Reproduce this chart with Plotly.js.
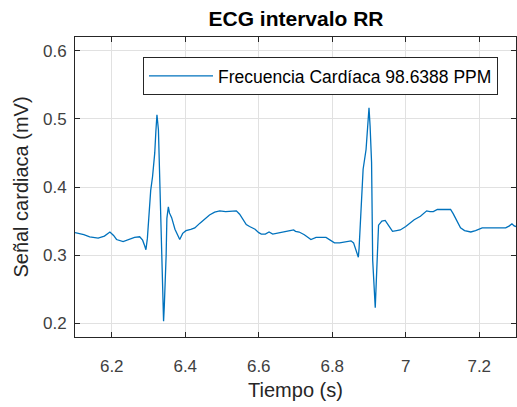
<!DOCTYPE html>
<html>
<head>
<meta charset="utf-8">
<script src="https://cdn.plot.ly/plotly-3.0.1.min.js"></script>
<style>
  html, body { margin: 0; padding: 0; background: #fff; }
  #chart { width: 517px; height: 407px; }
</style>
</head>
<body>
<div id="chart"></div>
<script>
// ECG segment: time (s) and cardiac signal (mV)
const tiempo = [
  6.100, 6.110, 6.124, 6.140, 6.163, 6.180, 6.195, 6.205, 6.213, 6.231,
  6.249, 6.262, 6.276, 6.284, 6.290, 6.293, 6.297, 6.302, 6.306, 6.311,
  6.317, 6.320, 6.323, 6.327, 6.331, 6.333, 6.335, 6.338, 6.340, 6.341,
  6.343, 6.346, 6.348, 6.350, 6.354, 6.357, 6.363, 6.372, 6.385, 6.393,
  6.402, 6.415, 6.426, 6.440, 6.455, 6.466, 6.480, 6.494, 6.510, 6.525,
  6.539, 6.548, 6.557, 6.566, 6.575, 6.590, 6.600, 6.607, 6.618, 6.628,
  6.638, 6.650, 6.662, 6.674, 6.685, 6.695, 6.700, 6.710, 6.724, 6.742,
  6.756, 6.783, 6.795, 6.806, 6.820, 6.835, 6.851, 6.858, 6.865, 6.871,
  6.873, 6.875, 6.877, 6.881, 6.884, 6.892, 6.897, 6.900, 6.903, 6.907,
  6.910, 6.912, 6.914, 6.917, 6.919, 6.921, 6.923, 6.926, 6.935, 6.944,
  6.954, 6.964, 6.975, 6.985, 7.000, 7.012, 7.023, 7.040, 7.050, 7.057,
  7.066, 7.075, 7.086, 7.100, 7.115, 7.122, 7.129, 7.136, 7.143, 7.149,
  7.160, 7.170, 7.177, 7.190, 7.208, 7.230, 7.250, 7.272, 7.282, 7.289,
  7.295, 7.300
];
const senal = [
  0.333, 0.332, 0.330, 0.327, 0.325, 0.328, 0.334, 0.329, 0.323, 0.320,
  0.324, 0.326, 0.327, 0.322, 0.313, 0.308, 0.325, 0.362, 0.395, 0.415,
  0.450, 0.481, 0.506, 0.484, 0.406, 0.360, 0.300, 0.249, 0.215, 0.203,
  0.225, 0.260, 0.300, 0.354, 0.371, 0.362, 0.355, 0.338, 0.323, 0.332,
  0.336, 0.338, 0.340, 0.347, 0.354, 0.359, 0.363, 0.365, 0.364, 0.365,
  0.365, 0.360, 0.352, 0.345, 0.342, 0.338, 0.333, 0.331, 0.331, 0.334,
  0.331, 0.332, 0.334, 0.334, 0.336, 0.337, 0.335, 0.334, 0.330, 0.323,
  0.326, 0.326, 0.322, 0.318, 0.318, 0.320, 0.321, 0.318, 0.305, 0.297,
  0.310, 0.330, 0.366, 0.400, 0.426, 0.455, 0.489, 0.516, 0.489, 0.436,
  0.293, 0.270, 0.250, 0.223, 0.250, 0.288, 0.320, 0.344, 0.350, 0.351,
  0.343, 0.335, 0.336, 0.337, 0.342, 0.347, 0.352, 0.357, 0.362, 0.365,
  0.364, 0.364, 0.367, 0.367, 0.367, 0.367, 0.361, 0.354, 0.346, 0.340,
  0.336, 0.335, 0.334, 0.336, 0.340, 0.340, 0.340, 0.340, 0.343, 0.346,
  0.343, 0.342
];

const xTicks = [6.2, 6.4, 6.6, 6.8, 7, 7.2];
const xTickText = ['6.2', '6.4', '6.6', '6.8', '7', '7.2'];
const yTicks = [0.2, 0.3, 0.4, 0.5, 0.6];
const yTickText = ['0.2', '0.3', '0.4', '0.5', '0.6'];

const serieNombre = 'Frecuencia Cardíaca 98.6388 PPM';

const FONT = '"Liberation Sans", Arial, Helvetica, sans-serif';
const AXIS_COLOR = '#262626';
const GRID_COLOR = '#e1e1e1';

const trace = {
  x: tiempo,
  y: senal,
  type: 'scatter',
  mode: 'lines',
  name: serieNombre,
  line: { color: '#0072BD', width: 1.3 },
  showlegend: true
};

const axisCommon = {
  showline: true,
  linecolor: AXIS_COLOR,
  linewidth: 1,
  mirror: 'ticks',
  ticks: 'inside',
  ticklen: 5,
  tickwidth: 1,
  tickcolor: AXIS_COLOR,
  showgrid: true,
  gridcolor: GRID_COLOR,
  gridwidth: 1,
  zeroline: false,
  tickfont: { family: FONT, size: 17, color: '#404040' }
};

const layout = {
  width: 517,
  height: 407,
  margin: { l: 75, r: 1, t: 37, b: 70 },
  paper_bgcolor: '#ffffff',
  plot_bgcolor: '#ffffff',
  title: {
    text: '<b>ECG intervalo RR</b>',
    font: { family: FONT, size: 21, color: '#000000' },
    x: 296 / 517,
    xanchor: 'center',
    xref: 'container',
    y: 1 - 19 / 407,
    yanchor: 'middle',
    yref: 'container'
  },
  xaxis: Object.assign({}, axisCommon, {
    range: [6.1, 7.3],
    tickvals: xTicks,
    ticktext: xTickText,
    ticklabelstandoff: 14,
    title: {
      text: 'Tiempo (s)',
      font: { family: FONT, size: 20, color: '#262626' },
      standoff: 7
    }
  }),
  yaxis: Object.assign({}, axisCommon, {
    range: [0.18, 0.62],
    tickvals: yTicks,
    ticktext: yTickText,
    ticklabelstandoff: 4,
    title: {
      text: 'Señal cardiaca (mV)',
      font: { family: FONT, size: 20, color: '#262626' },
      standoff: 8
    }
  }),
  legend: {
    x: (143 - 75) / 441,
    y: (337 - 57) / 300,
    xanchor: 'left',
    yanchor: 'top',
    bgcolor: '#ffffff',
    bordercolor: AXIS_COLOR,
    borderwidth: 1,
    font: { family: FONT, size: 17.5, color: '#000000' },
    itemwidth: 64
  },
  showlegend: true
};

Plotly.newPlot('chart', [trace], layout, { displayModeBar: false, staticPlot: true });
</script>
</body>
</html>
